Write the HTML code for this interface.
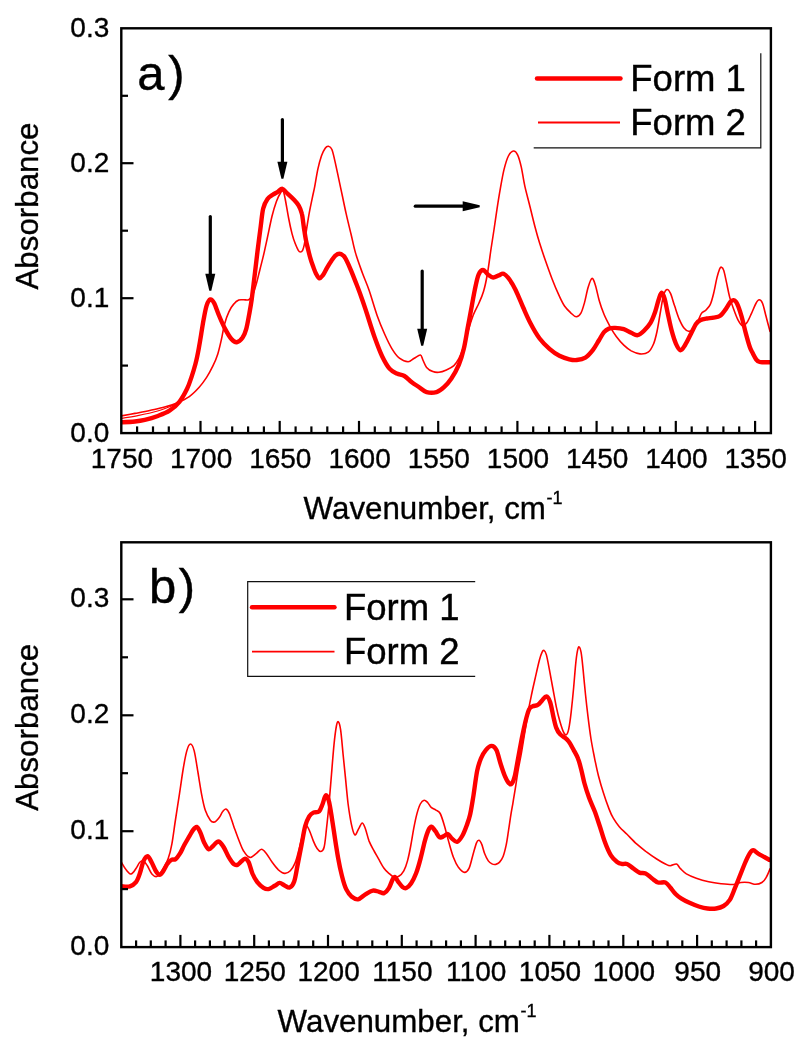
<!DOCTYPE html>
<html lang="en"><head><meta charset="utf-8"><title>IR absorbance spectra, Form 1 vs Form 2</title>
<style>html,body{margin:0;padding:0;background:#fff}svg{display:block}</style></head>
<body>
<svg width="808" height="1050" viewBox="0 0 808 1050">
<rect width="808" height="1050" fill="#fff"/>
<clipPath id="ca"><rect x="121.3" y="28.3" width="649.6" height="404.8"/></clipPath>
<g clip-path="url(#ca)" fill="none" stroke="#ff0000" stroke-linejoin="round" stroke-linecap="round">
<path d="M121.5 415.9C123.7 415.5 130.2 414.3 134.9 413.4C139.6 412.5 144.8 411.6 149.7 410.5C154.6 409.4 160.1 408.4 164.6 407.1C169.1 405.9 172.8 404.8 176.9 403.0C181.0 401.2 185.6 399.2 189.3 396.6C193.0 394.0 196.3 390.5 199.2 387.3C202.1 384.1 204.3 380.9 206.6 377.4C208.9 373.9 210.9 370.1 212.8 366.2C214.7 362.3 216.4 358.4 217.8 353.9C219.2 349.4 220.4 343.9 221.5 339.0C222.6 334.1 223.3 328.7 224.5 324.2C225.7 319.7 227.3 315.2 228.9 311.8C230.5 308.4 232.2 305.8 233.9 303.9C235.6 301.9 237.2 300.8 238.8 300.1C240.4 299.4 241.8 299.9 243.5 299.8C245.2 299.7 247.2 300.4 248.7 299.7C250.2 299.0 251.2 298.2 252.4 295.7C253.6 293.2 254.9 288.9 256.1 284.6C257.4 280.3 258.6 274.6 259.9 269.7C261.1 264.8 262.4 260.1 263.6 254.9C264.8 249.7 265.8 245.0 267.2 238.6C268.6 232.2 270.5 222.5 272.0 216.3C273.5 210.1 275.0 205.4 276.4 201.5C277.8 197.6 279.5 194.5 280.6 192.8C281.7 191.1 282.3 190.1 283.1 191.1C283.9 192.1 284.3 194.5 285.2 199.0C286.1 203.5 287.5 212.2 288.6 218.0C289.7 223.8 290.9 229.3 292.0 233.6C293.1 237.9 294.2 241.0 295.3 243.8C296.4 246.6 297.5 248.9 298.3 250.3C299.1 251.7 299.7 252.0 300.4 252.0C301.1 252.0 302.0 251.5 302.6 250.3C303.2 249.1 303.7 247.6 304.3 244.7C304.9 241.8 305.4 236.8 306.0 233.0C306.6 229.2 307.1 225.5 307.7 222.0C308.3 218.5 308.8 215.2 309.4 212.1C310.0 209.0 310.5 206.4 311.1 203.6C311.7 200.8 312.3 197.8 312.9 195.0C313.5 192.2 313.9 190.9 314.7 186.6C315.5 182.3 316.7 174.5 317.8 169.3C318.9 164.2 320.3 159.2 321.5 155.7C322.7 152.2 324.1 149.9 325.2 148.3C326.3 146.7 327.3 146.1 328.4 146.3C329.5 146.5 330.8 146.9 331.9 149.5C333.0 152.1 334.0 157.0 335.1 161.9C336.2 166.8 337.6 173.4 338.8 179.2C340.0 185.0 341.3 190.7 342.5 196.5C343.7 202.3 344.8 207.7 346.2 213.9C347.6 220.2 349.4 227.5 351.0 234.0C352.6 240.5 353.6 246.4 355.5 252.9C357.4 259.4 360.1 266.6 362.3 272.8C364.6 279.0 366.5 282.9 369.0 290.0C371.5 297.1 374.5 308.1 377.1 315.4C379.7 322.7 382.1 328.4 384.6 334.0C387.1 339.6 389.5 344.8 392.0 348.8C394.5 352.8 396.7 356.1 399.4 358.2C402.1 360.3 405.6 361.7 408.1 361.7C410.6 361.7 412.2 359.3 414.3 358.2C416.4 357.1 419.0 354.7 420.4 355.0C421.8 355.3 421.9 357.9 422.9 360.0C423.9 362.1 425.0 365.5 426.6 367.4C428.2 369.3 430.7 370.8 432.8 371.6C434.9 372.4 436.7 372.6 439.0 372.3C441.3 372.0 443.9 371.0 446.4 369.9C448.9 368.8 451.8 367.5 453.9 365.6C456.0 363.7 457.1 361.9 458.8 358.7C460.5 355.5 462.2 351.2 463.8 346.3C465.4 341.4 467.1 334.3 468.7 329.0C470.3 323.7 471.8 318.8 473.5 314.5C475.2 310.2 477.3 306.8 479.0 303.0C480.7 299.2 482.1 296.2 483.5 291.5C484.9 286.8 486.1 281.3 487.3 274.5C488.5 267.7 489.7 258.1 490.8 250.5C491.9 242.9 493.1 235.9 494.1 229.0C495.1 222.1 496.0 215.8 497.0 209.2C498.0 202.6 499.0 196.0 500.2 189.4C501.4 182.8 502.6 175.2 504.0 169.6C505.4 164.0 506.8 159.1 508.4 156.0C510.0 152.9 511.9 151.2 513.4 151.0C514.9 150.8 516.3 152.1 517.6 154.8C518.9 157.5 520.1 161.8 521.3 167.1C522.5 172.4 523.5 180.3 525.0 186.9C526.5 193.5 528.4 200.1 530.0 206.7C531.6 213.3 533.3 220.4 534.9 226.5C536.5 232.6 537.8 237.3 539.6 243.0C541.4 248.7 543.4 254.8 545.5 260.8C547.6 266.8 549.9 273.3 552.1 279.0C554.3 284.7 556.8 290.7 558.9 295.2C561.0 299.7 562.5 303.1 564.5 306.0C566.5 308.9 568.8 311.0 570.7 312.8C572.7 314.6 574.5 316.8 576.2 316.8C577.9 316.9 579.5 315.5 580.9 313.1C582.3 310.7 583.3 306.8 584.5 302.6C585.7 298.4 586.8 291.7 588.0 287.7C589.2 283.7 590.7 278.8 591.9 278.4C593.1 278.0 594.2 281.5 595.4 285.2C596.6 288.9 597.8 295.6 599.2 300.5C600.6 305.4 602.2 309.9 604.0 314.3C605.8 318.7 608.1 322.9 610.1 326.6C612.1 330.3 614.0 333.4 616.3 336.5C618.6 339.6 621.3 342.8 623.8 345.2C626.3 347.6 628.5 349.4 631.2 350.9C633.9 352.3 637.1 353.7 639.9 353.9C642.7 354.1 646.0 353.8 648.2 352.2C650.5 350.6 651.9 347.8 653.4 344.3C654.9 340.9 655.8 337.0 657.0 331.5C658.2 326.0 659.4 317.6 660.5 311.5C661.6 305.4 662.5 298.8 663.6 295.1C664.7 291.4 665.9 289.8 667.0 289.5C668.1 289.2 669.2 290.7 670.5 293.4C671.8 296.1 673.0 301.3 674.5 305.6C676.0 309.9 677.6 315.4 679.2 319.1C680.8 322.8 682.4 326.0 684.0 328.0C685.6 330.0 687.0 331.1 688.6 331.3C690.2 331.5 692.0 330.6 693.5 329.1C695.0 327.6 696.2 325.1 697.5 322.5C698.8 319.9 699.9 315.7 701.3 313.6C702.7 311.6 704.3 311.7 705.8 310.2C707.3 308.7 708.9 307.5 710.2 304.7C711.5 301.9 712.5 298.0 713.6 293.5C714.7 289.0 715.9 282.0 716.9 277.9C717.9 273.8 718.9 270.8 719.6 269.0C720.4 267.2 720.7 267.0 721.4 267.2C722.1 267.4 722.8 267.6 723.6 270.1C724.5 272.6 725.5 277.9 726.5 282.4C727.5 286.9 728.4 292.4 729.6 296.9C730.8 301.3 732.2 305.2 733.6 309.1C735.0 313.0 736.6 317.4 738.1 320.2C739.6 323.0 741.0 325.4 742.5 325.8C744.0 326.2 745.5 324.5 747.0 322.5C748.5 320.5 749.9 316.8 751.4 313.6C752.9 310.4 754.6 305.8 755.9 303.5C757.2 301.2 758.1 299.8 759.2 299.8C760.3 299.8 761.5 300.8 762.6 303.5C763.7 306.2 764.7 311.2 765.9 315.8C767.1 320.4 769.3 328.8 770.0 331.4" stroke-width="1.6"/>
<path d="M121.5 418.4C124.2 417.9 131.8 416.8 137.8 415.6C143.8 414.4 151.8 412.7 157.6 411.0C163.4 409.3 169.1 406.9 172.5 405.6C175.9 404.3 177.1 403.4 178.0 403.0" stroke-width="1.2"/>
<path d="M121.5 422.3C123.7 422.2 131.0 421.9 134.9 421.5C138.8 421.1 141.1 420.8 144.8 419.9C148.5 419.0 153.0 417.8 157.1 416.2C161.2 414.6 165.8 413.0 169.5 410.6C173.2 408.2 176.5 405.5 179.4 401.8C182.3 398.1 185.1 392.8 187.2 388.5C189.3 384.2 190.4 380.2 191.8 376.1C193.2 372.0 194.3 368.3 195.5 363.8C196.7 359.3 197.8 353.8 198.7 348.9C199.6 343.9 200.4 339.1 201.2 334.1C202.0 329.2 202.8 323.9 203.7 319.2C204.6 314.4 205.5 308.9 206.6 305.6C207.7 302.3 209.1 299.8 210.3 299.4C211.6 299.0 212.7 300.4 214.1 303.1C215.5 305.8 217.2 311.2 219.0 315.5C220.8 319.8 223.1 325.2 225.2 329.1C227.3 333.0 229.5 336.8 231.4 339.0C233.3 341.2 235.0 342.4 236.8 342.2C238.7 342.0 240.9 340.0 242.5 337.8C244.1 335.6 245.1 333.0 246.2 329.1C247.3 325.2 248.3 319.2 249.2 314.3C250.1 309.4 250.8 305.9 251.7 299.4C252.6 292.8 253.7 283.1 254.7 275.0C255.7 266.9 256.6 258.7 257.6 250.5C258.6 242.3 259.9 232.8 260.8 225.8C261.7 218.8 262.1 213.0 263.2 208.5C264.3 204.0 265.9 201.3 267.5 199.0C269.1 196.7 271.0 196.0 272.7 194.8C274.4 193.6 276.2 192.8 277.8 191.8C279.4 190.8 280.8 188.5 282.4 188.8C284.0 189.1 285.4 191.7 287.3 193.4C289.2 195.2 291.6 197.3 293.5 199.3C295.4 201.3 297.3 203.2 298.7 205.6C300.1 208.0 301.1 210.7 301.8 213.5C302.6 216.3 302.8 219.6 303.2 222.5C303.6 225.4 303.9 228.0 304.4 231.0C304.9 234.0 305.4 237.4 306.0 240.4C306.6 243.4 307.3 246.1 308.0 249.0C308.7 251.9 309.4 254.8 310.2 257.6C311.0 260.5 312.0 263.4 313.0 266.1C314.0 268.8 314.9 271.6 316.0 273.6C317.1 275.6 318.2 278.0 319.4 278.3C320.5 278.6 321.6 276.9 322.9 275.2C324.2 273.4 325.6 270.2 327.0 267.8C328.4 265.4 329.9 263.0 331.3 261.0C332.7 259.0 334.0 256.8 335.4 255.6C336.8 254.4 338.1 253.7 339.4 253.7C340.7 253.7 342.2 254.7 343.3 255.6C344.4 256.5 344.5 256.5 345.8 259.0C347.1 261.5 349.3 266.2 351.2 270.8C353.1 275.4 355.5 281.6 357.4 286.5C359.3 291.4 360.9 295.8 362.5 300.5C364.1 305.2 365.2 308.3 367.2 314.5C369.2 320.7 372.2 330.6 374.7 337.5C377.2 344.4 379.6 351.0 382.1 356.2C384.6 361.4 387.0 365.7 389.5 368.6C392.0 371.5 394.4 372.4 396.9 373.6C399.4 374.8 401.9 374.6 404.4 376.0C406.9 377.4 409.3 380.3 411.8 382.2C414.3 384.1 416.7 385.5 419.2 387.2C421.7 388.9 423.7 391.3 426.6 392.1C429.5 392.9 433.6 392.9 436.5 392.1C439.4 391.3 441.5 389.5 444.0 387.2C446.5 384.9 448.9 382.2 451.4 378.5C453.9 374.8 456.7 369.8 458.8 364.9C460.9 359.9 462.4 354.8 463.8 348.8C465.2 342.8 466.3 335.6 467.5 329.0C468.7 322.4 470.0 315.8 471.2 309.2C472.4 302.6 473.7 295.2 474.9 289.4C476.1 283.6 477.2 277.8 478.6 274.6C480.0 271.4 481.4 270.0 483.0 270.0C484.6 270.0 486.5 273.4 488.2 274.7C489.9 275.9 491.4 277.4 493.2 277.5C494.9 277.6 497.0 276.0 498.7 275.4C500.4 274.8 501.8 273.0 503.6 273.7C505.4 274.4 507.5 276.8 509.5 279.5C511.5 282.2 513.3 285.3 515.6 290.0C517.9 294.7 520.7 301.9 523.2 307.5C525.7 313.1 527.9 318.3 530.6 323.5C533.3 328.7 536.5 334.3 539.6 338.5C542.8 342.7 546.2 346.0 549.5 348.9C552.8 351.8 556.1 354.1 559.4 355.8C562.7 357.5 566.4 358.6 569.3 359.3C572.2 360.0 574.0 360.3 576.7 360.0C579.4 359.7 582.7 359.2 585.4 357.6C588.1 356.0 590.5 353.0 592.8 350.1C595.1 347.2 597.1 343.2 599.0 340.2C600.9 337.2 602.4 334.0 604.0 332.1C605.6 330.2 607.0 329.3 608.9 328.6C610.8 327.9 612.6 327.8 615.1 327.9C617.6 328.0 621.1 328.3 623.8 329.1C626.5 329.9 628.9 331.8 631.2 332.8C633.5 333.8 635.5 335.6 637.6 335.2C639.7 334.8 641.9 332.8 644.0 330.7C646.1 328.6 648.6 326.0 650.5 322.8C652.4 319.6 653.8 315.6 655.2 311.7C656.6 307.8 657.6 302.5 658.7 299.4C659.8 296.2 660.6 292.9 661.6 292.8C662.6 292.7 663.5 295.0 664.6 298.7C665.7 302.4 666.9 309.8 668.1 315.1C669.3 320.4 670.3 325.6 671.6 330.4C672.9 335.2 674.5 340.5 676.0 343.8C677.5 347.1 678.9 350.0 680.4 350.2C681.9 350.4 683.3 347.8 685.1 345.0C686.9 342.2 689.2 337.2 691.0 333.7C692.8 330.2 694.5 326.2 696.0 324.0C697.5 321.8 698.4 321.1 700.2 320.2C702.0 319.3 704.7 318.9 706.9 318.5C709.1 318.1 711.4 318.1 713.6 317.6C715.8 317.2 718.2 317.2 720.2 315.8C722.2 314.4 724.1 311.4 725.8 309.1C727.5 306.8 729.0 303.5 730.3 302.0C731.6 300.5 732.5 299.9 733.6 300.2C734.7 300.4 735.7 300.9 737.0 303.5C738.3 306.1 739.9 310.8 741.4 315.8C742.9 320.8 744.5 328.4 745.9 333.6C747.3 338.8 748.7 343.8 749.8 347.0C750.9 350.2 751.3 350.5 752.4 352.6C753.5 354.7 755.1 358.0 756.3 359.6C757.5 361.2 758.5 361.6 759.8 362.0C761.1 362.4 762.2 362.2 764.0 362.2C765.8 362.2 769.4 362.2 770.5 362.2" stroke-width="4.4"/>
</g>
<g stroke="#000" stroke-width="2.2" fill="none">
<line x1="137.1" y1="433.1" x2="137.1" y2="426.4"/>
<line x1="153.0" y1="433.1" x2="153.0" y2="426.4"/>
<line x1="168.8" y1="433.1" x2="168.8" y2="426.4"/>
<line x1="184.7" y1="433.1" x2="184.7" y2="426.4"/>
<line x1="200.5" y1="433.1" x2="200.5" y2="420.9"/>
<line x1="216.4" y1="433.1" x2="216.4" y2="426.4"/>
<line x1="232.2" y1="433.1" x2="232.2" y2="426.4"/>
<line x1="248.1" y1="433.1" x2="248.1" y2="426.4"/>
<line x1="263.9" y1="433.1" x2="263.9" y2="426.4"/>
<line x1="279.7" y1="433.1" x2="279.7" y2="420.9"/>
<line x1="295.6" y1="433.1" x2="295.6" y2="426.4"/>
<line x1="311.4" y1="433.1" x2="311.4" y2="426.4"/>
<line x1="327.3" y1="433.1" x2="327.3" y2="426.4"/>
<line x1="343.1" y1="433.1" x2="343.1" y2="426.4"/>
<line x1="359.0" y1="433.1" x2="359.0" y2="420.9"/>
<line x1="374.8" y1="433.1" x2="374.8" y2="426.4"/>
<line x1="390.6" y1="433.1" x2="390.6" y2="426.4"/>
<line x1="406.5" y1="433.1" x2="406.5" y2="426.4"/>
<line x1="422.3" y1="433.1" x2="422.3" y2="426.4"/>
<line x1="438.2" y1="433.1" x2="438.2" y2="420.9"/>
<line x1="454.0" y1="433.1" x2="454.0" y2="426.4"/>
<line x1="469.9" y1="433.1" x2="469.9" y2="426.4"/>
<line x1="485.7" y1="433.1" x2="485.7" y2="426.4"/>
<line x1="501.6" y1="433.1" x2="501.6" y2="426.4"/>
<line x1="517.4" y1="433.1" x2="517.4" y2="420.9"/>
<line x1="533.2" y1="433.1" x2="533.2" y2="426.4"/>
<line x1="549.1" y1="433.1" x2="549.1" y2="426.4"/>
<line x1="564.9" y1="433.1" x2="564.9" y2="426.4"/>
<line x1="580.8" y1="433.1" x2="580.8" y2="426.4"/>
<line x1="596.6" y1="433.1" x2="596.6" y2="420.9"/>
<line x1="612.5" y1="433.1" x2="612.5" y2="426.4"/>
<line x1="628.3" y1="433.1" x2="628.3" y2="426.4"/>
<line x1="644.1" y1="433.1" x2="644.1" y2="426.4"/>
<line x1="660.0" y1="433.1" x2="660.0" y2="426.4"/>
<line x1="675.8" y1="433.1" x2="675.8" y2="420.9"/>
<line x1="691.7" y1="433.1" x2="691.7" y2="426.4"/>
<line x1="707.5" y1="433.1" x2="707.5" y2="426.4"/>
<line x1="723.4" y1="433.1" x2="723.4" y2="426.4"/>
<line x1="739.2" y1="433.1" x2="739.2" y2="426.4"/>
<line x1="755.1" y1="433.1" x2="755.1" y2="420.9"/>
<line x1="121.3" y1="365.6" x2="128.0" y2="365.6"/>
<line x1="121.3" y1="298.2" x2="133.5" y2="298.2"/>
<line x1="121.3" y1="230.7" x2="128.0" y2="230.7"/>
<line x1="121.3" y1="163.2" x2="133.5" y2="163.2"/>
<line x1="121.3" y1="95.8" x2="128.0" y2="95.8"/>
</g>
<rect x="121.3" y="28.3" width="649.6" height="404.8" fill="none" stroke="#000" stroke-width="2.4"/>
<g font-family="'Liberation Sans', sans-serif" font-size="28" fill="#000" stroke="#000" stroke-width="0.35">
<text x="121.9" y="468.0" text-anchor="middle">1750</text>
<text x="201.1" y="468.0" text-anchor="middle">1700</text>
<text x="280.3" y="468.0" text-anchor="middle">1650</text>
<text x="359.6" y="468.0" text-anchor="middle">1600</text>
<text x="438.8" y="468.0" text-anchor="middle">1550</text>
<text x="518.0" y="468.0" text-anchor="middle">1500</text>
<text x="597.2" y="468.0" text-anchor="middle">1450</text>
<text x="676.4" y="468.0" text-anchor="middle">1400</text>
<text x="755.7" y="468.0" text-anchor="middle">1350</text>
<text x="109.3" y="442.0" text-anchor="end">0.0</text>
<text x="109.3" y="307.0" text-anchor="end">0.1</text>
<text x="109.3" y="172.0" text-anchor="end">0.2</text>
<text x="109.3" y="37.0" text-anchor="end">0.3</text>
</g>
<clipPath id="cb"><rect x="121.3" y="542.3" width="649.6" height="404.8"/></clipPath>
<g clip-path="url(#cb)" fill="none" stroke="#ff0000" stroke-linejoin="round" stroke-linecap="round">
<path d="M121.5 862.5C122.3 863.7 124.5 867.9 126.1 869.8C127.7 871.7 129.4 874.2 131.1 874.0C132.8 873.8 134.6 870.5 136.0 868.5C137.4 866.5 138.6 863.5 139.8 862.3C141.1 861.0 142.2 860.4 143.5 861.0C144.8 861.6 146.1 863.8 147.5 866.0C148.9 868.2 150.5 872.5 152.1 874.2C153.7 875.9 155.2 877.4 157.1 876.4C159.0 875.4 161.5 871.5 163.3 868.5C165.2 865.5 166.8 862.7 168.2 858.6C169.6 854.5 170.7 850.4 171.9 843.8C173.1 837.2 174.3 827.2 175.6 819.0C176.8 810.8 178.2 802.5 179.4 794.3C180.7 786.0 181.9 776.7 183.1 769.5C184.3 762.3 185.6 755.1 186.8 750.9C188.0 746.6 189.3 744.0 190.5 744.0C191.7 744.0 193.0 746.2 194.2 750.9C195.4 755.6 196.7 764.8 197.9 772.0C199.1 779.2 200.4 787.9 201.6 794.3C202.8 800.7 203.9 806.0 205.3 810.3C206.8 814.6 208.8 818.2 210.3 820.2C211.8 822.2 213.1 822.4 214.5 822.0C215.9 821.6 217.6 819.5 219.0 817.8C220.4 816.1 221.5 813.0 222.7 811.6C223.8 810.2 224.8 808.8 225.9 809.1C227.0 809.4 228.1 810.7 229.4 813.6C230.7 816.5 232.2 822.0 233.8 826.4C235.4 830.8 237.2 835.9 238.8 840.0C240.5 844.1 241.8 848.3 243.7 851.2C245.5 854.1 247.8 857.0 249.9 857.4C252.0 857.8 254.2 855.1 256.1 853.7C258.0 852.3 259.8 849.2 261.5 849.2C263.2 849.2 264.7 851.5 266.5 853.7C268.3 855.9 270.2 859.6 272.2 862.3C274.2 865.0 276.3 867.9 278.4 869.8C280.5 871.6 282.6 873.2 284.6 873.4C286.6 873.6 288.6 872.5 290.3 870.8C292.0 869.1 293.5 866.7 294.9 863.4C296.3 860.1 297.2 856.4 298.6 851.0C300.0 845.6 302.3 835.5 303.5 831.2C304.7 826.9 305.0 825.0 306.0 825.0C307.0 825.0 308.5 828.5 309.7 831.2C310.9 833.9 312.2 838.2 313.4 841.1C314.6 844.0 315.9 846.8 317.1 848.5C318.3 850.2 319.6 851.7 320.8 851.5C322.0 851.3 323.2 851.1 324.1 847.3C325.1 843.5 325.7 835.9 326.5 828.7C327.3 821.5 328.2 813.1 329.0 804.0C329.8 794.9 330.7 784.2 331.5 774.3C332.3 764.4 333.2 752.6 334.0 744.6C334.8 736.6 335.7 729.8 336.4 726.0C337.1 722.2 337.7 721.2 338.4 721.8C339.1 722.4 339.8 724.2 340.6 729.7C341.4 735.2 342.3 746.2 343.1 754.5C343.9 762.8 344.8 771.0 345.6 779.2C346.4 787.5 347.2 796.6 348.1 804.0C349.1 811.4 350.2 818.6 351.3 823.8C352.4 828.9 353.6 834.1 354.8 834.9C356.0 835.7 357.5 830.7 358.7 828.7C359.9 826.7 361.1 823.0 362.2 823.0C363.3 823.0 364.2 825.7 365.4 828.7C366.5 831.7 367.7 837.4 369.1 841.1C370.6 844.8 372.5 847.9 374.1 851.0C375.8 854.1 377.4 856.8 379.0 859.7C380.6 862.6 382.4 866.0 384.0 868.3C385.6 870.6 387.2 871.8 388.9 873.3C390.5 874.8 392.2 876.5 393.9 877.0C395.5 877.5 397.1 877.2 398.8 876.2C400.5 875.2 402.4 873.3 403.8 870.8C405.2 868.2 406.4 865.0 407.5 860.9C408.6 856.8 409.7 851.4 410.7 846.0C411.7 840.6 412.7 834.1 413.7 828.7C414.7 823.4 415.8 818.0 416.9 813.9C418.0 809.8 419.1 806.3 420.3 804.0C421.5 801.7 422.9 800.4 424.1 800.2C425.4 800.0 426.6 801.5 427.8 802.7C429.0 804.0 430.1 806.5 431.5 807.7C432.9 808.9 434.4 809.1 435.9 810.1C437.3 811.1 438.8 810.9 440.2 813.5C441.6 816.1 443.1 821.2 444.5 826.0C445.9 830.8 447.4 837.2 448.9 842.4C450.4 847.6 451.8 853.0 453.4 857.2C455.0 861.4 456.8 865.1 458.6 867.6C460.5 870.1 462.8 872.3 464.5 872.4C466.2 872.5 467.6 871.2 469.0 868.4C470.4 865.6 471.5 859.9 472.7 855.7C473.9 851.5 475.4 845.7 476.4 843.1C477.4 840.5 478.0 840.1 478.9 840.2C479.8 840.3 480.7 841.7 481.6 843.9C482.6 846.1 483.5 850.7 484.6 853.5C485.7 856.3 487.1 859.2 488.3 860.9C489.5 862.6 490.8 863.3 492.0 863.9C493.2 864.5 494.5 864.6 495.7 864.4C496.9 864.1 498.2 863.7 499.4 862.4C500.6 861.1 502.0 859.3 503.1 856.5C504.2 853.7 505.2 849.5 506.1 845.4C507.0 841.3 507.6 836.7 508.3 832.0C509.0 827.3 509.8 821.8 510.5 817.1C511.2 812.4 512.0 808.2 512.8 803.8C513.5 799.3 514.1 795.9 515.0 790.4C515.9 784.9 516.9 777.5 518.0 771.0C519.1 764.5 520.5 758.4 521.7 751.3C522.9 744.2 524.2 735.6 525.4 728.6C526.5 721.6 527.5 715.4 528.6 709.3C529.7 703.2 530.9 697.8 532.1 692.0C533.3 686.2 534.8 680.1 536.0 674.7C537.2 669.3 538.5 663.5 539.5 659.8C540.5 656.1 541.2 654.0 542.0 652.4C542.8 650.8 543.3 650.0 544.0 650.4C544.7 650.8 545.5 651.7 546.4 654.9C547.3 658.1 548.4 664.4 549.4 669.7C550.4 675.1 551.5 680.8 552.6 687.0C553.8 693.2 555.1 701.0 556.3 706.8C557.5 712.6 558.8 717.6 560.0 721.7C561.2 725.8 562.3 729.4 563.3 731.6C564.3 733.8 565.3 735.2 566.2 734.8C567.1 734.4 567.9 732.9 568.7 729.1C569.5 725.3 570.4 718.8 571.2 711.8C572.0 704.8 573.0 694.8 573.7 687.0C574.4 679.2 575.0 670.8 575.6 664.8C576.2 658.8 576.8 654.1 577.4 651.1C578.0 648.1 578.5 646.7 579.1 646.9C579.7 647.1 580.4 648.6 581.1 652.4C581.8 656.2 582.4 662.7 583.1 669.7C583.8 676.7 584.7 686.7 585.5 694.5C586.3 702.3 587.1 709.3 588.0 716.7C588.9 724.1 589.9 732.0 591.0 739.0C592.1 746.0 593.5 752.6 594.7 758.8C596.0 765.0 597.0 770.3 598.5 776.0C600.0 781.7 601.6 787.3 603.4 792.8C605.1 798.3 607.4 804.7 609.0 808.9C610.6 813.1 611.5 815.2 613.3 818.2C615.0 821.2 617.2 824.2 619.5 826.9C621.8 829.6 624.1 831.4 627.0 834.3C629.9 837.2 633.6 841.2 636.9 844.2C640.2 847.2 643.5 849.6 646.8 852.1C650.1 854.6 653.6 857.0 656.7 859.0C659.8 861.0 663.1 862.9 665.4 864.0C667.7 865.1 668.4 865.7 670.3 865.7C672.1 865.7 674.9 863.5 676.5 864.0C678.1 864.5 678.6 866.8 680.2 868.4C681.9 870.0 683.7 872.2 686.4 873.9C689.1 875.5 692.6 877.0 696.3 878.3C700.0 879.6 704.6 880.9 708.7 881.8C712.8 882.7 717.0 883.3 721.1 883.8C725.2 884.2 730.2 884.7 733.5 884.5C736.8 884.3 738.4 882.8 740.9 882.5C743.4 882.2 745.8 882.2 748.3 882.5C750.8 882.8 753.4 884.3 755.7 884.3C758.0 884.3 760.2 883.6 761.9 882.5C763.6 881.4 764.8 879.9 766.1 877.6C767.5 875.3 769.4 870.4 770.0 868.9" stroke-width="1.6"/>
<path d="M121.5 886.3C122.9 886.3 127.5 887.0 129.9 886.3C132.3 885.6 134.3 884.2 136.0 882.1C137.7 880.0 138.6 877.0 139.8 873.5C141.1 870.0 142.2 864.0 143.5 861.1C144.8 858.2 146.3 855.9 147.7 856.1C149.0 856.3 150.2 859.8 151.6 862.3C152.9 864.8 154.5 868.9 155.8 871.0C157.1 873.1 158.3 874.7 159.6 874.7C160.8 874.7 162.0 872.9 163.3 871.0C164.6 869.1 166.2 865.5 167.5 863.6C168.8 861.8 170.1 860.6 171.4 859.9C172.8 859.1 174.2 860.1 175.6 859.1C177.0 858.1 178.4 856.1 179.9 853.7C181.4 851.4 182.7 847.9 184.3 845.0C185.9 842.1 187.9 838.8 189.3 836.3C190.8 833.8 191.8 831.7 193.0 830.1C194.2 828.5 195.5 826.5 196.7 826.9C197.9 827.3 199.2 830.0 200.4 832.6C201.6 835.2 202.7 839.7 204.1 842.5C205.5 845.3 207.1 848.6 208.6 849.2C210.1 849.8 211.5 847.3 212.8 846.2C214.1 845.1 215.4 843.2 216.5 842.5C217.6 841.8 218.3 841.0 219.5 841.8C220.7 842.6 222.3 844.9 223.9 847.5C225.5 850.1 227.2 854.6 228.9 857.4C230.6 860.2 232.4 862.9 233.8 864.1C235.2 865.3 236.3 865.2 237.5 864.8C238.7 864.4 239.9 862.6 241.2 861.6C242.4 860.6 243.8 858.5 245.0 858.6C246.2 858.7 247.5 859.8 248.7 862.3C249.9 864.8 251.0 870.2 252.4 873.5C253.8 876.8 255.5 879.7 257.3 882.1C259.2 884.5 261.6 886.6 263.5 887.8C265.4 889.0 266.6 889.4 268.5 889.1C270.4 888.8 272.8 886.8 274.7 885.8C276.6 884.8 278.0 883.0 279.6 882.9C281.2 882.8 282.9 884.6 284.6 885.4C286.3 886.2 288.1 888.1 289.7 887.5C291.3 886.9 292.9 885.2 294.2 881.5C295.5 877.8 296.4 871.1 297.6 865.0C298.8 858.9 300.2 851.5 301.5 845.0C302.8 838.5 303.9 831.0 305.2 826.2C306.5 821.4 307.8 818.6 309.2 816.3C310.6 814.0 311.8 813.4 313.4 812.6C315.0 811.8 317.6 812.8 319.1 811.4C320.6 810.0 321.5 806.7 322.6 804.0C323.7 801.3 324.7 795.7 325.8 795.3C326.9 794.9 328.0 797.6 329.0 801.5C330.0 805.4 331.0 812.6 332.0 818.8C333.0 825.0 334.0 832.0 335.0 838.6C336.0 845.2 337.1 852.2 338.2 858.4C339.3 864.6 340.5 870.5 341.9 875.7C343.2 880.9 344.6 885.9 346.3 889.4C348.0 892.9 349.9 895.1 351.8 896.8C353.8 898.4 355.7 899.7 358.0 899.3C360.3 898.9 362.9 895.8 365.4 894.3C367.9 892.8 370.5 891.0 372.8 890.6C375.1 890.2 377.1 891.4 379.0 891.8C380.9 892.2 382.4 893.7 384.0 893.1C385.6 892.5 387.5 890.4 388.9 888.1C390.3 885.8 391.6 881.4 392.6 879.5C393.6 877.6 394.2 876.6 395.1 877.0C396.1 877.4 397.1 880.2 398.3 881.9C399.5 883.5 401.2 885.9 402.5 886.9C403.8 887.9 404.8 888.7 406.2 888.1C407.6 887.5 409.5 885.7 411.2 883.2C412.9 880.7 414.5 877.4 416.1 873.3C417.7 869.2 419.2 863.8 420.6 858.4C422.1 853.0 423.5 845.8 424.8 841.1C426.1 836.4 427.4 832.4 428.5 830.0C429.6 827.6 430.4 826.5 431.5 826.7C432.6 826.9 434.0 829.4 435.4 831.2C436.8 833.0 438.3 836.6 439.7 837.4C441.1 838.2 442.5 836.7 443.9 836.1C445.2 835.5 446.4 833.6 447.8 834.0C449.2 834.4 450.5 837.3 452.0 838.6C453.5 839.9 455.3 842.2 457.0 841.8C458.7 841.4 460.6 838.7 462.2 836.0C463.8 833.3 465.4 829.1 466.7 825.5C468.0 821.9 469.1 819.1 470.2 814.2C471.3 809.3 472.2 803.2 473.4 796.0C474.5 788.8 475.9 777.4 477.1 771.2C478.3 765.0 479.4 762.3 480.8 758.8C482.2 755.3 484.0 752.2 485.8 750.1C487.6 748.0 489.7 745.9 491.5 745.9C493.3 745.9 494.9 747.1 496.4 750.1C497.9 753.1 499.2 759.5 500.6 763.8C502.0 768.1 503.5 772.9 504.9 776.1C506.3 779.3 507.6 781.9 508.8 783.1C510.0 784.4 510.8 784.8 511.8 783.6C512.8 782.4 513.8 780.2 514.8 776.1C515.8 772.0 516.9 765.0 518.0 758.8C519.1 752.6 520.5 745.2 521.7 739.0C522.9 732.8 524.2 726.7 525.4 721.7C526.6 716.8 527.9 711.9 529.1 709.3C530.3 706.7 531.3 707.0 532.8 706.3C534.2 705.6 536.3 705.8 537.8 704.9C539.3 704.0 540.6 702.0 542.0 700.6C543.4 699.2 545.0 696.2 546.4 696.4C547.8 696.6 548.9 698.5 550.1 701.9C551.3 705.3 552.4 712.4 553.4 716.7C554.4 721.0 555.2 725.0 556.3 727.9C557.4 730.8 558.5 732.5 560.0 734.1C561.5 735.8 563.5 736.6 565.0 737.8C566.5 739.0 567.2 739.5 568.7 741.5C570.2 743.5 572.1 747.2 573.7 750.1C575.3 753.0 576.9 755.6 578.1 758.8C579.4 762.0 580.1 765.4 581.2 769.5C582.3 773.6 583.2 778.8 584.5 783.5C585.8 788.2 587.3 792.8 589.0 797.5C590.7 802.2 593.0 806.7 594.8 811.5C596.6 816.3 598.1 821.2 599.8 826.2C601.5 831.2 602.9 836.9 604.8 841.7C606.6 846.6 608.8 851.9 610.9 855.3C613.0 858.7 615.2 860.5 617.1 862.0C619.0 863.5 620.5 863.7 622.1 864.0C623.8 864.3 625.1 863.3 627.0 864.0C628.9 864.7 631.1 867.0 633.2 868.4C635.3 869.8 637.3 871.8 639.4 872.6C641.5 873.4 643.5 872.5 645.6 873.4C647.7 874.3 649.7 876.8 651.8 878.3C653.9 879.8 655.7 881.8 658.0 882.5C660.3 883.2 663.4 881.7 665.4 882.5C667.4 883.3 668.6 885.6 670.3 887.5C671.9 889.4 673.4 891.9 675.3 893.7C677.2 895.6 679.0 897.0 681.5 898.6C684.0 900.2 687.2 901.8 690.1 903.1C693.0 904.4 695.9 905.6 698.8 906.5C701.7 907.4 704.6 908.2 707.5 908.5C710.4 908.8 713.4 908.9 716.1 908.5C718.8 908.1 721.3 907.4 723.6 906.0C725.9 904.6 727.9 902.8 729.8 899.9C731.6 897.0 733.1 892.6 734.7 888.7C736.4 884.8 738.1 880.4 739.7 876.3C741.4 872.2 743.0 867.8 744.6 864.0C746.2 860.2 748.2 855.9 749.6 853.6C751.0 851.3 751.9 850.3 753.3 850.3C754.7 850.3 756.4 852.5 758.2 853.6C760.1 854.7 762.4 855.9 764.4 857.0C766.4 858.1 769.1 859.7 770.0 860.2" stroke-width="4.4"/>
</g>
<g stroke="#000" stroke-width="2.2" fill="none">
<line x1="136.1" y1="947.1" x2="136.1" y2="940.4"/>
<line x1="150.8" y1="947.1" x2="150.8" y2="940.4"/>
<line x1="165.6" y1="947.1" x2="165.6" y2="940.4"/>
<line x1="180.4" y1="947.1" x2="180.4" y2="934.9"/>
<line x1="195.1" y1="947.1" x2="195.1" y2="940.4"/>
<line x1="209.9" y1="947.1" x2="209.9" y2="940.4"/>
<line x1="224.6" y1="947.1" x2="224.6" y2="940.4"/>
<line x1="239.4" y1="947.1" x2="239.4" y2="940.4"/>
<line x1="254.2" y1="947.1" x2="254.2" y2="934.9"/>
<line x1="268.9" y1="947.1" x2="268.9" y2="940.4"/>
<line x1="283.7" y1="947.1" x2="283.7" y2="940.4"/>
<line x1="298.5" y1="947.1" x2="298.5" y2="940.4"/>
<line x1="313.2" y1="947.1" x2="313.2" y2="940.4"/>
<line x1="328.0" y1="947.1" x2="328.0" y2="934.9"/>
<line x1="342.8" y1="947.1" x2="342.8" y2="940.4"/>
<line x1="357.5" y1="947.1" x2="357.5" y2="940.4"/>
<line x1="372.3" y1="947.1" x2="372.3" y2="940.4"/>
<line x1="387.0" y1="947.1" x2="387.0" y2="940.4"/>
<line x1="401.8" y1="947.1" x2="401.8" y2="934.9"/>
<line x1="416.6" y1="947.1" x2="416.6" y2="940.4"/>
<line x1="431.3" y1="947.1" x2="431.3" y2="940.4"/>
<line x1="446.1" y1="947.1" x2="446.1" y2="940.4"/>
<line x1="460.9" y1="947.1" x2="460.9" y2="940.4"/>
<line x1="475.6" y1="947.1" x2="475.6" y2="934.9"/>
<line x1="490.4" y1="947.1" x2="490.4" y2="940.4"/>
<line x1="505.2" y1="947.1" x2="505.2" y2="940.4"/>
<line x1="519.9" y1="947.1" x2="519.9" y2="940.4"/>
<line x1="534.7" y1="947.1" x2="534.7" y2="940.4"/>
<line x1="549.4" y1="947.1" x2="549.4" y2="934.9"/>
<line x1="564.2" y1="947.1" x2="564.2" y2="940.4"/>
<line x1="579.0" y1="947.1" x2="579.0" y2="940.4"/>
<line x1="593.7" y1="947.1" x2="593.7" y2="940.4"/>
<line x1="608.5" y1="947.1" x2="608.5" y2="940.4"/>
<line x1="623.3" y1="947.1" x2="623.3" y2="934.9"/>
<line x1="638.0" y1="947.1" x2="638.0" y2="940.4"/>
<line x1="652.8" y1="947.1" x2="652.8" y2="940.4"/>
<line x1="667.6" y1="947.1" x2="667.6" y2="940.4"/>
<line x1="682.3" y1="947.1" x2="682.3" y2="940.4"/>
<line x1="697.1" y1="947.1" x2="697.1" y2="934.9"/>
<line x1="711.8" y1="947.1" x2="711.8" y2="940.4"/>
<line x1="726.6" y1="947.1" x2="726.6" y2="940.4"/>
<line x1="741.4" y1="947.1" x2="741.4" y2="940.4"/>
<line x1="756.1" y1="947.1" x2="756.1" y2="940.4"/>
<line x1="121.3" y1="889.1" x2="128.0" y2="889.1"/>
<line x1="121.3" y1="831.2" x2="133.5" y2="831.2"/>
<line x1="121.3" y1="773.2" x2="128.0" y2="773.2"/>
<line x1="121.3" y1="715.3" x2="133.5" y2="715.3"/>
<line x1="121.3" y1="657.3" x2="128.0" y2="657.3"/>
<line x1="121.3" y1="599.3" x2="133.5" y2="599.3"/>
</g>
<rect x="121.3" y="542.3" width="649.6" height="404.8" fill="none" stroke="#000" stroke-width="2.4"/>
<g font-family="'Liberation Sans', sans-serif" font-size="28" fill="#000" stroke="#000" stroke-width="0.35">
<text x="181.0" y="981.0" text-anchor="middle">1300</text>
<text x="254.8" y="981.0" text-anchor="middle">1250</text>
<text x="328.6" y="981.0" text-anchor="middle">1200</text>
<text x="402.4" y="981.0" text-anchor="middle">1150</text>
<text x="476.2" y="981.0" text-anchor="middle">1100</text>
<text x="550.0" y="981.0" text-anchor="middle">1050</text>
<text x="623.9" y="981.0" text-anchor="middle">1000</text>
<text x="697.7" y="981.0" text-anchor="middle">950</text>
<text x="771.5" y="981.0" text-anchor="middle">900</text>
<text x="109.3" y="955.0" text-anchor="end">0.0</text>
<text x="109.3" y="839.0" text-anchor="end">0.1</text>
<text x="109.3" y="723.0" text-anchor="end">0.2</text>
<text x="109.3" y="607.0" text-anchor="end">0.3</text>
</g>
<g font-family="'Liberation Sans', sans-serif" font-size="31.3" fill="#000" stroke="#000" stroke-width="0.35">
<text transform="translate(38.1 206) rotate(-90)" text-anchor="middle">Absorbance</text>
<text transform="translate(38.1 727.3) rotate(-90)" text-anchor="middle">Absorbance</text>
<text x="303.6" y="519">Wavenumber, cm<tspan font-size="18" dy="-14.6" dx="0.5">-1</tspan></text>
<text x="277.6" y="1032">Wavenumber, cm<tspan font-size="18" dy="-14.6" dx="0.5">-1</tspan></text>
</g>
<g font-family="'Liberation Sans', sans-serif" font-size="49" fill="#000" stroke="#000" stroke-width="0.4">
<text x="137.3" y="89.5">a<tspan dx="3.6">)</tspan></text>
<text x="149" y="602.6">b<tspan dx="2.6">)</tspan></text>
</g>
<g font-family="'Liberation Sans', sans-serif" font-size="36.5" fill="#000" stroke="#000" stroke-width="0.4">
<path d="M760.8 53.2V147.8H533.7" fill="none" stroke="#111" stroke-width="1.2"/>
<line x1="537" y1="78.5" x2="620.5" y2="78.5" stroke="#ff0000" stroke-width="4.4" stroke-linecap="round"/>
<line x1="538" y1="122.5" x2="620" y2="122.5" stroke="#ff0000" stroke-width="1.8"/>
<text x="630.3" y="90.8">Form 1</text>
<text x="630.3" y="134.9">Form 2</text>
<path d="M475.2 581.7H247.7V676.4H475.2" fill="none" stroke="#111" stroke-width="1.2"/>
<line x1="252" y1="607.3" x2="334.5" y2="607.3" stroke="#ff0000" stroke-width="4.4" stroke-linecap="round"/>
<line x1="252" y1="651.7" x2="334.5" y2="651.7" stroke="#ff0000" stroke-width="1.8"/>
<text x="344" y="619.5">Form 1</text>
<text x="344" y="663.8">Form 2</text>
</g>
<line x1="210.3" y1="216.5" x2="210.3" y2="278.7" stroke="#000" stroke-width="3.2" stroke-linecap="round"/>
<path d="M205.3 273.7 L215.3 273.7 L211.3 290.7 L209.3 290.7 Z" fill="#000"/>
<line x1="282.4" y1="119.5" x2="282.4" y2="166.7" stroke="#000" stroke-width="3.2" stroke-linecap="round"/>
<path d="M277.4 161.7 L287.4 161.7 L283.4 178.7 L281.4 178.7 Z" fill="#000"/>
<line x1="422.2" y1="271.0" x2="422.2" y2="333.8" stroke="#000" stroke-width="3.2" stroke-linecap="round"/>
<path d="M417.2 328.8 L427.2 328.8 L423.2 345.8 L421.2 345.8 Z" fill="#000"/>
<line x1="415.3" y1="206.2" x2="467.7" y2="206.2" stroke="#000" stroke-width="3.2" stroke-linecap="round"/>
<path d="M462.7 201.2 L462.7 211.2 L479.7 207.2 L479.7 205.2 Z" fill="#000"/>
</svg>
</body></html>
